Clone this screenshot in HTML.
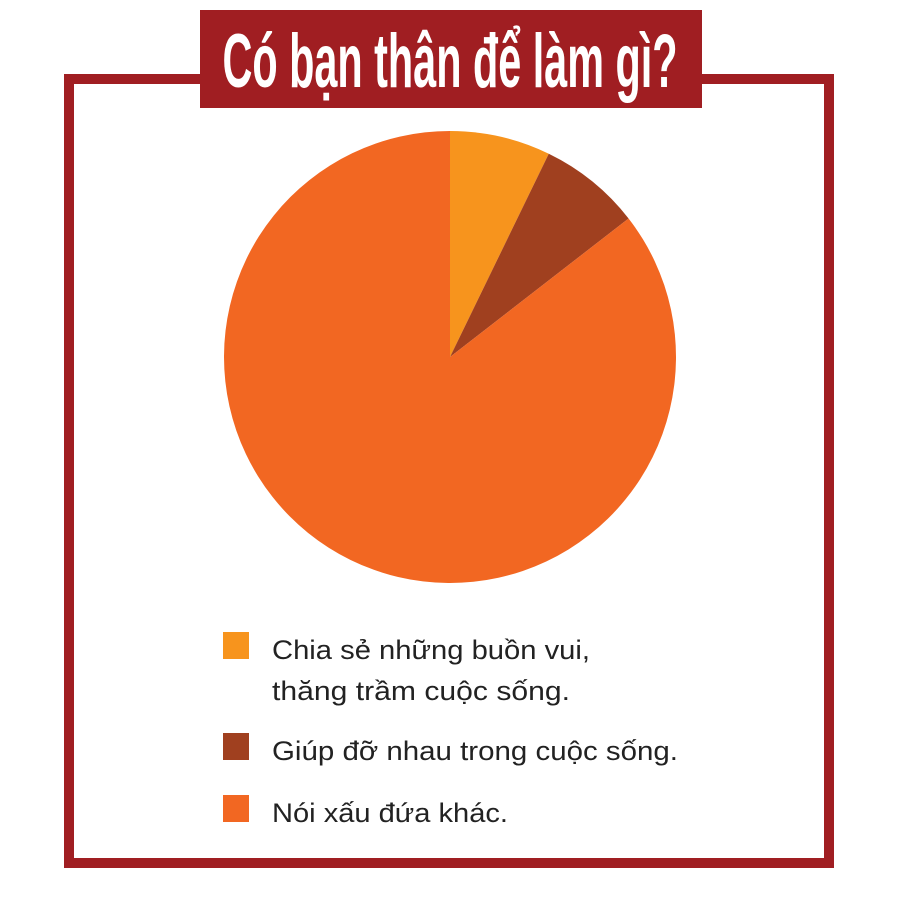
<!DOCTYPE html>
<html><head><meta charset="utf-8"><style>
body{margin:0;background:#fff;}
svg{display:block;}
</style></head><body>
<svg id="chart" width="900" height="900" viewBox="0 0 900 900">
  <rect x="69" y="79" width="760" height="784" fill="#fff" stroke="#a01e22" stroke-width="10"/>
  <rect x="200" y="10" width="502" height="98" fill="#a01e22"/>
  <text x="450" y="87" text-anchor="middle" textLength="455" lengthAdjust="spacingAndGlyphs" font-family="Liberation Sans Narrow, Liberation Sans, sans-serif" font-weight="bold" font-size="76" fill="#fff">Có bạn thân để làm gì?</text>
  <g id="slices"></g>
  <g id="legend"></g>
</svg>
<script>
const categories = ["Chia sẻ những buồn vui, thăng trầm cuộc sống.", "Giúp đỡ nhau trong cuộc sống.", "Nói xấu đứa khác."];
const values = [7.2, 7.3, 85.5];
const colors = ["#f7941d", "#a0401f", "#f26722"];
const legendLines = [["Chia sẻ những buồn vui,", "thăng trầm cuộc sống."], ["Giúp đỡ nhau trong cuộc sống."], ["Nói xấu đứa khác."]];
const legendWidths = [[318, 298], [406], [236]];

const NS = "http://www.w3.org/2000/svg";
const cx = 450, cy = 357, r = 226;
const total = values.reduce((a, b) => a + b, 0);
const g = document.getElementById("slices");
let a0 = 0;
values.forEach((v, i) => {
  const a1 = a0 + v / total * Math.PI * 2;
  const x0 = cx + r * Math.sin(a0), y0 = cy - r * Math.cos(a0);
  const x1 = cx + r * Math.sin(a1), y1 = cy - r * Math.cos(a1);
  const large = (a1 - a0) > Math.PI ? 1 : 0;
  const p = document.createElementNS(NS, "path");
  p.setAttribute("d", `M${cx},${cy} L${x0},${y0} A${r},${r} 0 ${large} 1 ${x1},${y1} Z`);
  p.setAttribute("fill", colors[i]);
  
  
  g.appendChild(p);
  a0 = a1;
});

const lg = document.getElementById("legend");
const entryY = [632, 733, 795];
legendLines.forEach((lines, i) => {
  const e = document.createElementNS(NS, "g");
  
  
  const sq = document.createElementNS(NS, "rect");
  sq.setAttribute("x", 223); sq.setAttribute("y", entryY[i]);
  sq.setAttribute("width", 26); sq.setAttribute("height", 27);
  sq.setAttribute("fill", colors[i]);
  
  
  e.appendChild(sq);
  lines.forEach((t, j) => {
    const tx = document.createElementNS(NS, "text");
    tx.setAttribute("x", 272);
    tx.setAttribute("y", entryY[i] + 27 + j * 41);
    tx.setAttribute("font-family", "Liberation Sans, DejaVu Sans, sans-serif");
    tx.setAttribute("font-size", "27");
    tx.setAttribute("fill", "#222");
    tx.setAttribute("textLength", legendWidths[i][j]);
    tx.setAttribute("lengthAdjust", "spacingAndGlyphs");
    
    
    tx.textContent = t;
    e.appendChild(tx);
  });
  lg.appendChild(e);
});
</script>
</body></html>
